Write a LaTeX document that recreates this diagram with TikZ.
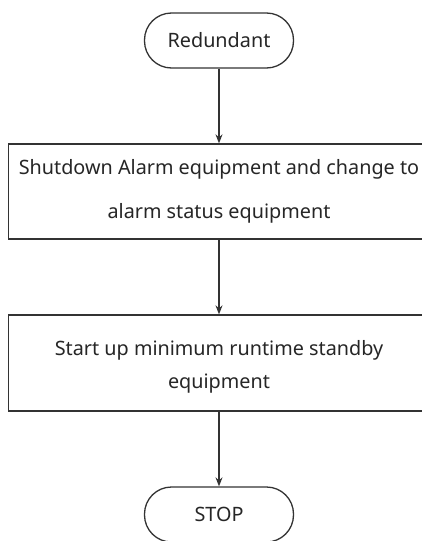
\documentclass[tikz,border=0pt]{standalone}
\usepackage{fontspec}
\setmainfont{Noto Sans}
\usetikzlibrary{arrows.meta}
\begin{document}
\begin{tikzpicture}[x=1pt,y=-1pt,
  line width=1.3pt,
  every node/.style={draw=black!80, fill=white, inner sep=0pt, align=center, text=black!85},
  terminal/.style={rectangle, rounded corners=27pt, minimum width=149pt, minimum height=55pt, font=\fontsize{19.8}{22}\selectfont},
  process/.style={rectangle, minimum width=421pt, minimum height=95pt},
  flow/.style={draw=black!80, line width=1.3pt, -{Stealth[length=9pt,width=7pt]}}
]
\useasboundingbox (0,0) rectangle (422,541);
\begin{scope}
\clip (0,0) rectangle (422,541);
\node[terminal] (red) at (219,40.5) {Redundant};
\node[process, font=\fontsize{19.8}{44}\selectfont] (alarm) at (219,191.5)
  {Shutdown Alarm equipment and change to\\alarm status equipment};
\node[process, minimum height=96pt, font=\fontsize{19.8}{33}\selectfont] (start) at (219,363)
  {\rule{0pt}{22pt}Start up minimum runtime standby\\equipment};
\node[terminal] (stop) at (219,514.5) {STOP};
\draw[flow] (red) -- (alarm);
\draw[flow] (alarm) -- (start);
\draw[flow] (start) -- (stop);
\end{scope}
\end{tikzpicture}
\end{document}
